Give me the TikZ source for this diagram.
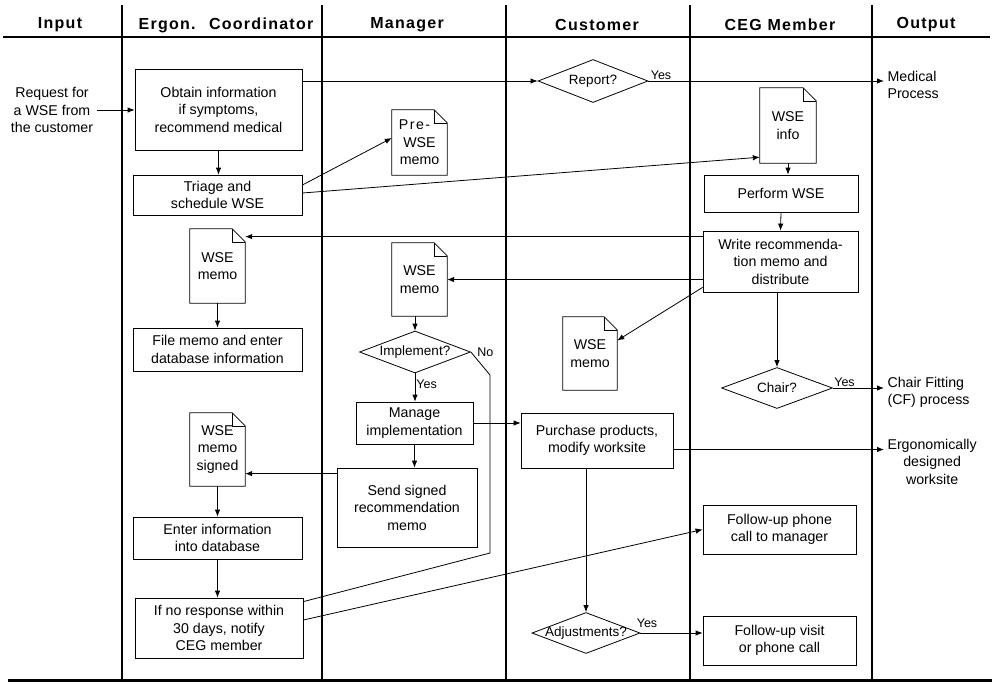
\documentclass[tikz,border=0pt]{standalone}
\usepackage{fontspec}
\setmainfont{Liberation Sans}
\newfontfamily\headfont[LetterSpace=8]{Liberation Sans Bold}
\usetikzlibrary{arrows.meta,shapes.geometric}
% memo sheet with folded corner
\newcommand{\memoframe}[1]{%
  \draw[line width=0.8pt] (#1.south west) -- (#1.north west) -- ([xshift=-13pt]#1.north east)
     -- ([yshift=-13pt]#1.north east) -- (#1.south east) -- cycle;
  \draw[line width=0.6pt] ([xshift=-13pt]#1.north east) |- ([yshift=-13pt]#1.north east);}

\begin{document}
\begin{tikzpicture}[x=1pt,y=-1pt,
    every node/.style={font=\fontsize{14.2}{17.5}\selectfont},
    lane/.style={line width=1.4pt},
    laneedge/.style={line width=2.4pt},
    box/.style={draw, line width=0.8pt, align=center, inner sep=2pt},
    memo/.style={align=center, inner sep=0pt},
    decision/.style={diamond, draw, line width=0.8pt, inner sep=0pt},
    dtext/.style={font=\fontsize{13.5}{16}\selectfont},
    flow/.style={line width=0.8pt, -{Latex[length=7pt,width=5.5pt]}},
    link/.style={line width=0.8pt},
    lbl/.style={font=\fontsize{12.5}{14}\selectfont, inner sep=1pt},
    head/.style={font=\headfont\fontsize{16}{18}\selectfont}]

\useasboundingbox (0,0) rectangle (992,683);

%lanes
\draw[laneedge] (122,5) -- (122,680);
\draw[lane] (322,5) -- (322,680);
\draw[lane] (506,5) -- (506,680);
\draw[lane] (690,5) -- (690,680);
\draw[laneedge] (872,5) -- (872,680);
\draw[lane] (3,37) -- (990,37);
\draw[line width=3pt] (8,680) -- (992,680);

%lane titles
\node[head] (hin)  at (60,25)  {Input};
\node[head] (herg) at (226,25) {Ergon.~ Coordinator};
\node[head] (hmgr) at (407,25) {Manager};
\node[head] (hcus) at (597,25) {Customer};
\node[head] (hceg) at (780,25) {CEG Member};
\node[head] (hout) at (926,25) {Output};

%input
\node[align=center] (request) at (52,110) {Request for\\a WSE from\\the customer};

%ergon. coordinator
\node[box, minimum width=167pt, minimum height=81pt] (obtain) at (218.5,109.5)
  {Obtain information\\if symptoms,\\recommend medical};
\node[box, minimum width=169pt, minimum height=40pt] (triage) at (217.5,195)
  {Triage and\\schedule WSE};
\node[memo, minimum width=55pt, minimum height=74pt] (ergmemo) at (217.5,266) {WSE\\memo};
\node[box, minimum width=169pt, minimum height=43pt] (filememo) at (217.5,349.5)
  {File memo and enter\\database information};
\node[memo, minimum width=55pt, minimum height=73pt] (signed) at (217.5,449.5) {WSE\\memo\\signed};
\node[box, minimum width=169pt, minimum height=42pt] (enter) at (217.5,538)
  {Enter information\\into database};
\node[box, minimum width=168pt, minimum height=60pt] (noresp) at (219,628)
  {If no response within\\30 days, notify\\CEG member};

%manager
\node[memo, minimum width=55pt, minimum height=65pt] (premem) at (419.5,142.5)
  {{\addfontfeature{LetterSpace=10}Pre-}\hspace*{10pt}\\WSE\\memo};
\node[memo, minimum width=55pt, minimum height=73pt] (mgrmemo) at (419.5,279.5) {WSE\\memo};
\node[decision, minimum width=111pt, minimum height=42pt,
  label={[dtext]center:Implement?}] (implement) at (415,352) {};
\node[box, minimum width=117pt, minimum height=42pt] (manage) at (414.5,423)
  {Manage\\implementation};
\node[box, minimum width=140pt, minimum height=79pt] (send) at (407,507.5)
  {Send signed\\recommendation\\memo};

%customer
\node[decision, minimum width=110pt, minimum height=43pt,
  label={[dtext]center:Report?}] (report) at (593,81) {};
\node[memo, minimum width=54pt, minimum height=73pt] (cusmemo) at (590,353.5) {WSE\\memo};
\node[box, minimum width=152pt, minimum height=55pt] (purchase) at (597,440.5)
  {Purchase products,\\modify worksite};
\node[decision, minimum width=108pt, minimum height=41pt,
  label={[dtext]center:Adjustments?}] (adjust) at (586,633) {};

%ceg member
\node[memo, minimum width=56pt, minimum height=75pt] (wseinfo) at (788,125.5) {WSE\\info};
\node[box, minimum width=154pt, minimum height=37pt] (perform) at (781,193.5) {Perform WSE};
\node[box, minimum width=155pt, minimum height=61pt] (write) at (780.5,261.5)
  {Write recommenda-\\tion memo and\\distribute};
\node[decision, minimum width=111pt, minimum height=41pt,
  label={[dtext]center:Chair?}] (chair) at (777,388) {};
\node[box, minimum width=153pt, minimum height=49pt] (phone) at (779.5,529.5)
  {Follow-up phone\\call to manager};
\node[box, minimum width=153pt, minimum height=49pt] (visit) at (779.5,640.5)
  {Follow-up visit\\or phone call};

%output
\node[align=left, anchor=west] (medical) at (884,85) {Medical\\Process};
\node[align=left, anchor=west] (chairfit) at (884,392.5) {Chair Fitting\\(CF) process};
\node[align=center, anchor=west] (ergout) at (884,461.5) {Ergonomically\\designed\\worksite};

%memo sheets
\memoframe{premem}
\memoframe{wseinfo}
\memoframe{ergmemo}
\memoframe{mgrmemo}
\memoframe{cusmemo}
\memoframe{signed}

%flows
\draw[flow] (request.east) -- (request.east -| obtain.west);
\draw[flow] (obtain.south) -- (obtain.south |- triage.north);
\draw[flow] (obtain.east |- report.west) -- (report.west);
\draw[flow] (report.east) -- node[lbl, pos=0, anchor=south west, xshift=1pt] (yesrep) {Yes}
  (report.east -| medical.west);
\draw[flow] ([yshift=10pt]triage.east) -- ([yshift=4.5pt]premem.west);
\draw[flow] ([yshift=2pt]triage.east) -- ([yshift=6pt]wseinfo.south west);
\draw[flow] (wseinfo.south) -- (wseinfo.south |- perform.north);
\draw[flow] (perform.south) -- (write.north);
\draw[flow] ([yshift=-6pt]write.north west) -- ([yshift=-6pt]write.north west -| ergmemo.east);
\draw[flow] (write.west |- mgrmemo.east) -- (mgrmemo.east);
\draw[flow] ([yshift=5pt]write.south west) -- ([yshift=13pt]cusmemo.east);
\draw[flow] (write.south -| chair.north) -- (chair.north);
\draw[flow] (chair.east) -- node[lbl, pos=0, anchor=south west] (yeschair) {Yes}
  (chair.east -| chairfit.west);
\draw[flow] (ergmemo.south) -- (ergmemo.south |- filememo.north);
\draw[flow] (mgrmemo.south -| implement.north) -- (implement.north);
\draw[flow] (implement.south) -- node[lbl, right, pos=0.4] (yesimp) {Yes}
  (implement.south |- manage.north);
\coordinate (nobend) at (490,375);
\coordinate (nodrop) at (490,553);
\draw[link] (implement.east) -- node[lbl, pos=0, anchor=west, xshift=5pt] (noimp) {No}
  (nobend) -- (nodrop) -- ([yshift=-4pt]noresp.north east);
\draw[flow] (manage.east) -- (manage.east -| purchase.west);
\draw[flow] (manage.south) -- (manage.south |- send.north);
\draw[flow] ([yshift=-6pt]send.north west) -- ([yshift=-6pt]send.north west -| signed.east);
\draw[flow] (signed.south) -- (signed.south |- enter.north);
\draw[flow] (enter.south) -- (enter.south |- noresp.north);
\draw[flow] ([yshift=8pt]noresp.east) -- (phone.west);
\draw[flow] ([yshift=-9pt]purchase.east) -- ([yshift=-9pt]purchase.east -| ergout.west);
\draw[flow] (adjust.north |- purchase.south) -- (adjust.north);
\draw[flow] (adjust.east) -- node[lbl, pos=0, anchor=south west, xshift=-5pt, yshift=4pt] (yesadj) {Yes}
  (adjust.east -| visit.west);

\end{tikzpicture}
\end{document}
